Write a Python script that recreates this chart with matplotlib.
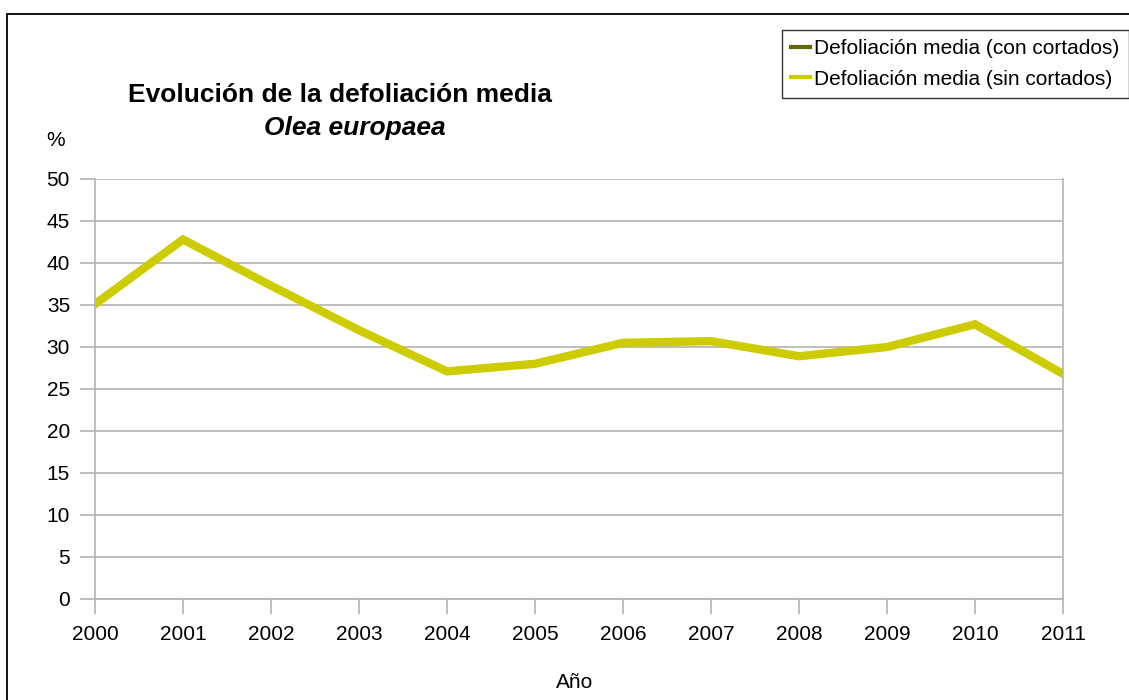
import matplotlib.pyplot as plt
from matplotlib.patches import Rectangle
from matplotlib.lines import Line2D

plt.rcParams['font.family'] = ['Liberation Sans', 'DejaVu Sans']

years = [2000, 2001, 2002, 2003, 2004, 2005, 2006, 2007, 2008, 2009, 2010, 2011]
con_cortados = [35.1, 42.8, 37.3, 32.0, 27.1, 28.0, 30.5, 30.7, 28.9, 30.0, 32.7, 26.8]
sin_cortados = [35.1, 42.8, 37.3, 32.0, 27.1, 28.0, 30.5, 30.7, 28.9, 30.0, 32.7, 26.8]

W, H = 1129, 700
fig = plt.figure(figsize=(W / 100, H / 100), dpi=100)

# marco exterior del gráfico (se sale por la derecha y por abajo)
fig.patches.append(Rectangle((7 / W, -0.1), 1.2, (H - 14) / H + 0.1,
                             transform=fig.transFigure, fill=False,
                             edgecolor='black', linewidth=1.3))

ax = fig.add_axes([95 / W, (H - 599) / H, (1063 - 95) / W, (599 - 179) / H])

ax.plot(years, con_cortados, color='#666600', linewidth=4, solid_joinstyle='miter')
ax.plot(years, sin_cortados, color='#cccc00', linewidth=6, solid_joinstyle='miter')

gris = '#b3b3b3'
ax.set_xlim(2000, 2011)
ax.set_ylim(0, 50)
ax.set_xticks(years)
ax.set_yticks(range(0, 51, 5))
ax.tick_params(labelsize=15, length=11, color=gris, width=1.2)
ax.tick_params(axis='x', pad=8)
ax.tick_params(axis='y', pad=7)
ax.grid(axis='y', color=gris, linewidth=1.2)
ax.set_axisbelow(True)
ax.spines['top'].set_visible(False)
for side in ['left', 'right', 'bottom']:
    ax.spines[side].set_color(gris)
    ax.spines[side].set_linewidth(1.2)

fig.text(340 / W, 1 - 95 / H, 'Evolución de la defoliación media',
         ha='center', va='center', fontsize=19, fontweight='bold')
fig.text(355 / W, 1 - 128 / H, 'Olea europaea',
         ha='center', va='center', fontsize=19, fontweight='bold', style='italic')
fig.text(56 / W, 1 - 140 / H, '%', ha='center', va='center', fontsize=15)
fig.text(575 / W, 1 - 683 / H, 'Año', ha='center', va='center', fontsize=15)

handles = [Line2D([], [], color='#666600', linewidth=3),
           Line2D([], [], color='#cccc00', linewidth=3)]
leg = fig.legend(handles, ['Defoliación media (con cortados)', 'Defoliación media (sin cortados)'],
                 loc='upper left', bbox_to_anchor=(782 / W, 1 - 30 / H),
                 fontsize=15, frameon=True, fancybox=False, handlelength=0.9,
                 handletextpad=0.2, borderpad=0.45, labelspacing=0.54, borderaxespad=0)
leg.get_frame().set_edgecolor('black')
leg.get_frame().set_linewidth(1.0)

fig.savefig('out.png', dpi=100)
